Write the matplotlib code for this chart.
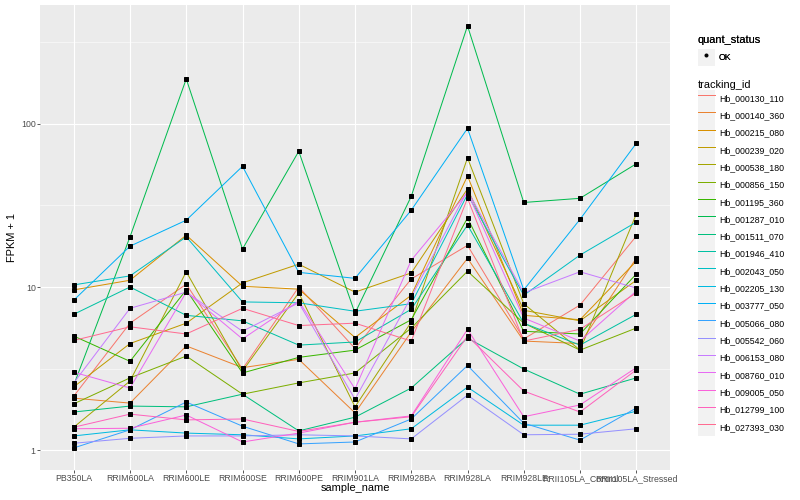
import matplotlib
matplotlib.use("Agg")
import matplotlib.pyplot as plt
from matplotlib.patches import Rectangle
from matplotlib.lines import Line2D
import numpy as np

plt.rcParams['font.family'] = ['Liberation Sans', 'DejaVu Sans']

samples = ["PB350LA", "RRIM600LA", "RRIM600LE", "RRIM600SE", "RRIM600PE", "RRIM901LA",
           "RRIM928BA", "RRIM928LA", "RRIM928LE", "RRII105LA_Control", "RRII105LA_Stressed"]

tracking_ids = ["Hb_000130_110", "Hb_000140_360", "Hb_000215_080", "Hb_000239_020",
                "Hb_000538_180", "Hb_000856_150", "Hb_001195_360", "Hb_001287_010",
                "Hb_001511_070", "Hb_001946_410", "Hb_002043_050", "Hb_002205_130",
                "Hb_003777_050", "Hb_005066_080", "Hb_005542_060", "Hb_006153_080",
                "Hb_008760_010", "Hb_009005_050", "Hb_012799_100", "Hb_027393_030"]

# FPKM + 1, one list per tracking_id, in sample order
hb_000130_110 = [2.14, 6.0, 10.4, 3.14, 10.0, 4.2, 11.2, 18, 4.8, 7.75, 20.5]
hb_000140_360 = [2.08, 1.94, 4.35, 3.2, 3.6, 1.69, 5.3, 15, 4.66, 4.5, 15]
hb_000215_080 = [9.6, 11.0, 20.8, 10.1, 9.7, 4.9, 8.9, 48, 6.7, 6.3, 14.4]
hb_000239_020 = [2.44, 4.5, 6.0, 10.6, 13.8, 9.3, 12.2, 40, 7.2, 6.2, 11]
hb_000538_180 = [1.38, 2.65, 12.4, 3.05, 9.2, 1.84, 6.1, 62, 7.9, 4.1, 28]
hb_000856_150 = [1.92, 2.77, 3.77, 2.2, 2.58, 2.97, 5.6, 12.5, 6.0, 4.1, 5.6]
hb_001195_360 = [5.0, 3.5, 9.6, 2.97, 3.7, 4.1, 6.3, 26.5, 5.35, 5.15, 12]
hb_001287_010 = [2.5, 20.3, 189, 17.1, 68, 6.9, 36, 400, 33, 35, 57]
hb_001511_070 = [1.71, 1.86, 1.84, 2.2, 1.31, 1.59, 2.4, 4.86, 3.14, 2.2, 2.77]
hb_001946_410 = [6.8, 10.0, 6.7, 6.2, 4.4, 4.6, 7.3, 24, 6.0, 4.4, 6.8]
hb_002043_050 = [10.3, 11.7, 20.3, 8.1, 8.0, 7.1, 7.9, 37, 8.9, 15.7, 25]
hb_002205_130 = [1.22, 1.33, 1.27, 1.24, 1.17, 1.22, 1.35, 2.43, 1.42, 1.42, 1.73]
hb_003777_050 = [8.3, 17.8, 25.7, 55, 12.3, 11.3, 29.6, 94, 9.6, 26, 76]
hb_005066_080 = [1.03, 1.33, 1.97, 1.40, 1.09, 1.12, 1.55, 3.3, 1.46, 1.15, 1.81]
hb_005542_060 = [1.10, 1.18, 1.22, 1.22, 1.24, 1.22, 1.17, 2.17, 1.24, 1.25, 1.35]
hb_006153_080 = [2.58, 7.4, 9.3, 5.35, 8.0, 2.05, 8.7, 39, 9.2, 12.4, 9.85]
hb_008760_010 = [3.0, 2.4, 9.3, 4.8, 8.2, 2.37, 14.6, 38, 6.45, 4.66, 9.45]
hb_009005_050 = [1.35, 1.36, 1.64, 1.12, 1.27, 1.48, 1.62, 5.5, 1.6, 1.89, 3.2]
hb_012799_100 = [1.38, 1.66, 1.53, 1.55, 1.3, 1.48, 1.6, 5.0, 2.3, 1.71, 3.1]
hb_027393_030 = [4.7, 5.7, 5.15, 7.4, 5.8, 6.0, 4.66, 35, 4.66, 5.5, 9.2]

series = [hb_000130_110, hb_000140_360, hb_000215_080, hb_000239_020, hb_000538_180,
          hb_000856_150, hb_001195_360, hb_001287_010, hb_001511_070, hb_001946_410,
          hb_002043_050, hb_002205_130, hb_003777_050, hb_005066_080, hb_005542_060,
          hb_006153_080, hb_008760_010, hb_009005_050, hb_012799_100, hb_027393_030]

# ggplot2 hue palette, 20 levels
colors = ["#F8766D", "#EA8331", "#D89000", "#C09B00", "#A3A500", "#7CAE00", "#39B600",
          "#00BB4E", "#00BF7D", "#00C1A3", "#00BFC4", "#00BAE0", "#00B0F6", "#35A2FF",
          "#9590FF", "#C77CFF", "#E76BF3", "#FA62DB", "#FF62BC", "#FF6C91"]

fig = plt.figure(figsize=(800 / 72, 500 / 72), dpi=72)
ax = fig.add_axes([40 / 800, 30 / 500, 630 / 800, 465 / 500])
ax.set_facecolor("#EBEBEB")

x = np.arange(len(samples))
for vals, col, name in zip(series, colors, tracking_ids):
    ax.plot(x, vals, color=col, lw=1.0, zorder=3, label=name)
for vals in series:
    ax.plot(x, vals, ls="none", marker="s", ms=3.2, color="black", zorder=4)

ax.set_yscale("log")
ax.set_ylim(0.754, 537)
ax.set_xlim(-0.6, len(samples) - 0.4)
ax.set_yticks([1, 10, 100])
ax.set_yticklabels(["1", "10", "100"])
ax.set_yticks([10 ** 0.5, 10 ** 1.5, 10 ** 2.5], minor=True)
ax.yaxis.set_minor_formatter(plt.NullFormatter())
ax.set_xticks(x)
ax.set_xticklabels(samples)

ax.grid(which="major", color="white", lw=1.1)
ax.grid(which="minor", axis="y", color="white", lw=0.5)
ax.set_axisbelow(True)
for s in ax.spines.values():
    s.set_visible(False)
ax.tick_params(which="major", length=2.75, width=0.8, color="#333333",
               labelsize=8.8, labelcolor="#4D4D4D", pad=1.5)
ax.tick_params(which="minor", length=0)

ax.set_xlabel("sample_name", fontsize=11, labelpad=0)
ax.set_ylabel("FPKM + 1", fontsize=11, labelpad=4)

key_bg = dict(facecolor="#F2F2F2", edgecolor="none")
ok_handle = (Rectangle((0, 0), 1, 1, **key_bg),
             Line2D([], [], ls="none", marker="o", ms=3, color="black"))
leg1 = fig.legend([ok_handle], ["OK"], title="quant_status", loc="upper left",
                  bbox_to_anchor=(694 / 800, 1 - 31 / 500), frameon=False, fontsize=8.8,
                  title_fontsize=11, handlelength=1.95, handleheight=2.65,
                  handletextpad=0.5, borderaxespad=0, alignment="left")
fig.add_artist(leg1)

handles = [(Rectangle((0, 0), 1, 1, **key_bg),
            Line2D([], [], color=c, lw=1.0)) for c in colors]
fig.legend(handles, tracking_ids, title="tracking_id", loc="upper left",
           bbox_to_anchor=(694 / 800, 1 - 76 / 500), frameon=False, fontsize=8.8,
           title_fontsize=11, handlelength=1.95, handleheight=2.65,
           handletextpad=0.5, labelspacing=0.0, borderaxespad=0, alignment="left")

fig.savefig("out.png", dpi=72, facecolor="white")
